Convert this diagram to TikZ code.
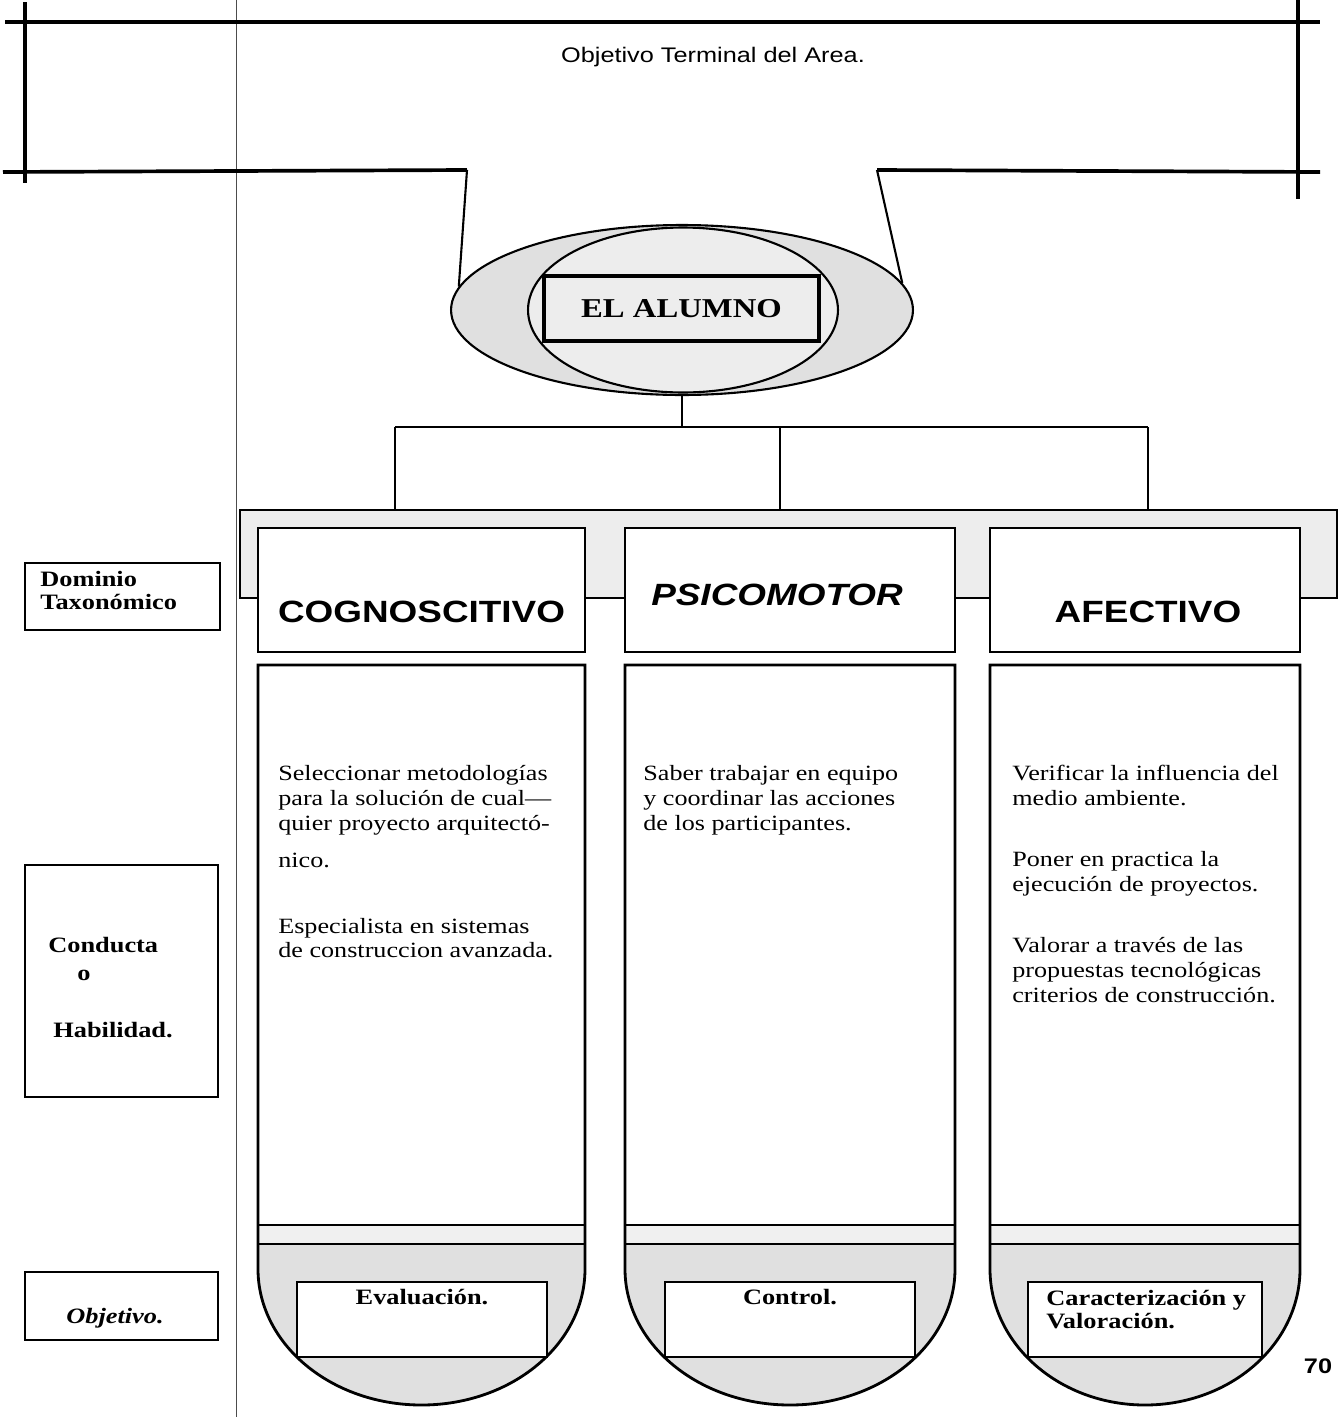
\documentclass[tikz,border=0pt]{standalone}
\usepackage{fontspec}
\setmainfont{Liberation Serif}[FakeStretch=1.2]
\setsansfont{Liberation Sans}[FakeStretch=1.2]
\usetikzlibrary{shapes.geometric}

\begin{document}
\begin{tikzpicture}[x=0.02cm, y=-0.02cm,
        marco/.style={line width=2.1pt},
        enlace/.style={line width=1.2pt},
        caja/.style={draw, line width=1.4pt, inner sep=0pt},
        dominio/.style={font=\sffamily\bfseries\fontsize{17.5}{20}\selectfont},
        cuerpo/.style={font=\fontsize{12.4}{14.2}\selectfont, align=left, anchor=north west, inner sep=0pt},
        etiqueta/.style={font=\bfseries\fontsize{12.5}{12.8}\selectfont, inner sep=0pt}]
                \useasboundingbox (0,0) rectangle (1340,1417);
                % marco del objetivo terminal
                \draw[line width=0.5pt, black!70] (236,0) -- (236,1417);
                \draw[marco] (5,22) -- (1320,22);
                \draw[marco] (25,2) -- (25,183);
                \draw[marco] (1298,0) -- (1298,199);
                \draw[marco] (3,172) -- (467,170) coordinate (bocaizq);
                \draw[marco] (1320,172) -- (877,170) coordinate (bocader);
                \node[font=\sffamily\fontsize{12}{14}\selectfont] (titulo) at (713,57) {Objetivo Terminal del Area.};
                % el alumno
                \node[ellipse, draw, line width=1.2pt, fill=black!12, minimum width=9.24cm, minimum height=3.4cm, inner sep=0pt] (anillo) at (682,310) {};
                \node[ellipse, draw, line width=1.2pt, fill=black!7, minimum width=6.2cm, minimum height=3.3cm, inner sep=0pt] (nucleo) at (683,310) {};
                \node[caja, line width=2.4pt, fill=black!7, minimum width=5.5cm, minimum height=1.3cm, font=\bfseries\fontsize{15.5}{18}\selectfont] (alumno) at (681.5,308.5) {EL ALUMNO};
                \draw[enlace] (bocaizq) -- (anillo.174);
                \draw[enlace] (bocader) -- (anillo.7);
                % ramas
                \node[draw, line width=1.4pt, fill=black!7, minimum width=21.94cm, minimum height=1.76cm, inner sep=0pt] (barra) at (788.5,554) {};
                \coordinate (nudo) at (682,427);
                \draw[enlace] (anillo.south) -- (nudo);
                \draw[enlace] (395,427) coordinate (ramaizq) -- (1148,427) coordinate (ramader);
                \coordinate (ramamedia) at (780,427);
                \draw[enlace] (ramaizq) -- (ramaizq |- barra.north);
                \draw[enlace] (ramamedia) -- (ramamedia |- barra.north);
                \draw[enlace] (ramader) -- (ramader |- barra.north);
                % dominios
                \node[caja, fill=white, minimum width=6.54cm, minimum height=2.48cm] (cog) at (421.5,590) {};
                \node[caja, fill=white, minimum width=6.6cm, minimum height=2.48cm] (psi) at (790,590) {};
                \node[caja, fill=white, minimum width=6.2cm, minimum height=2.48cm] (afe) at (1145,590) {};
                \node[dominio] (cogtxt) at (421.5,612) {COGNOSCITIVO};
                \node[font=\sffamily\bfseries\itshape\fontsize{17.5}{20}\selectfont] (psitxt) at (777,595) {PSICOMOTOR};
                \node[dominio] (afetxt) at (1148,612) {AFECTIVO};
                % columnas
                \foreach \xl/\xr in {258/585, 625/955, 990/1300}
                    {
                        \pgfmathsetmacro\rx{(\xr-\xl)/2}
                        \begin{scope}
                            \clip (\xl,665) -- (\xl,1269) arc[start angle=180, end angle=0, x radius=\rx, y radius=136] -- (\xr,665) -- cycle;
                            \fill[black!12] (\xl,1244) rectangle (\xr,1417);
                            \fill[black!6] (\xl,1225) rectangle (\xr,1244);
                        \end{scope}
                        \draw[line width=1.6pt] (\xl,665) -- (\xl,1269) arc[start angle=180, end angle=0, x radius=\rx, y radius=136] -- (\xr,665) -- cycle;
                        \draw[line width=1.3pt] (\xl,1225) -- (\xr,1225) (\xl,1244) -- (\xr,1244);
                    }
                \node[cuerpo] (cogdesc) at (278,765) {Seleccionar metodologías\\para la solución de cual---\\quier proyecto arquitectó-\\[6.8pt]nico.\\[23.2pt]Especialista en sistemas\\de construccion avanzada.};
                \node[cuerpo] (psidesc) at (643,765) {Saber trabajar en equipo\\y coordinar las acciones\\de los participantes.};
                \node[cuerpo] (afedesc) at (1012,765) {Verificar la influencia del\\medio ambiente.\\[20.4pt]Poner en practica la\\ejecución de proyectos.\\[20.4pt]Valorar a través de las\\propuestas tecnológicas\\criterios de construcción.};
                % objetivos
                \node[caja, fill=white, minimum width=5cm, minimum height=1.5cm] (evalua) at (422,1319.5) {};
                \node[caja, fill=white, minimum width=5cm, minimum height=1.5cm] (control) at (790,1319.5) {};
                \node[caja, fill=white, minimum width=4.68cm, minimum height=1.5cm] (valora) at (1145,1319.5) {};
                \node[etiqueta] (evaluatxt) at (422,1297) {Evaluación.};
                \node[etiqueta] (controltxt) at (790,1297) {Control.};
                \node[etiqueta, align=left, anchor=north west] (valoratxt) at (1046,1290) {Caracterización y\\Valoración.};
                \node[font=\sffamily\bfseries\fontsize{12}{14}\selectfont] (pagina) at (1318,1366) {70};
                % rotulos de la izquierda
                \node[caja, minimum width=3.9cm, minimum height=1.34cm] (dominiolbl) at (122.5,596.5) {};
                \node[etiqueta, align=left, anchor=north west] (dominiotxt) at (40,571) {Dominio\\Taxonómico};
                \node[caja, minimum width=3.86cm, minimum height=4.64cm] (conductalbl) at (121.5,981) {};
                \node[etiqueta, anchor=west] (conducta) at (48,945) {Conducta};
                \node[etiqueta] (conector) at (84,975) {o};
                \node[etiqueta, anchor=west] (habilidad) at (53,1030) {Habilidad.};
                \node[caja, minimum width=3.86cm, minimum height=1.36cm] (objetivolbl) at (121.5,1306) {};
                \node[inner sep=0pt, font=\bfseries\itshape\fontsize{12.5}{12.8}\selectfont] (objetivotxt) at (115,1318) {Objetivo.};
            \end{tikzpicture}
\end{document}
